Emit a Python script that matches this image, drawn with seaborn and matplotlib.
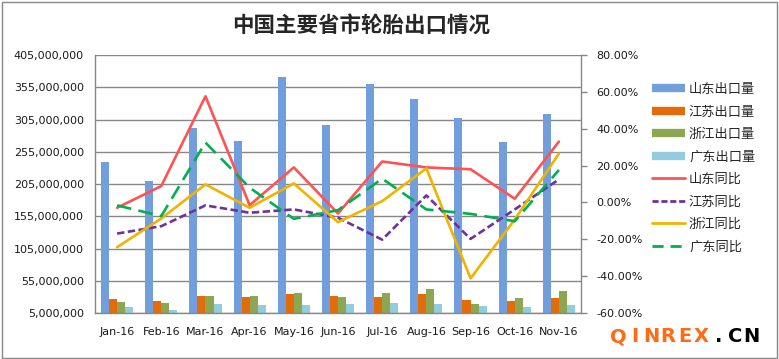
import numpy as np
import pandas as pd
import matplotlib
matplotlib.use("Agg")
import matplotlib.pyplot as plt
import matplotlib.ticker as mticker
from matplotlib.lines import Line2D
from matplotlib.patches import Rectangle
import seaborn as sns

months = ["Jan-16", "Feb-16", "Mar-16", "Apr-16", "May-16", "Jun-16",
          "Jul-16", "Aug-16", "Sep-16", "Oct-16", "Nov-16"]
bar_names = ["山东出口量", "江苏出口量", "浙江出口量", "广东出口量"]
line_names = ["山东同比", "江苏同比", "浙江同比", "广东同比"]

shandong_vol = [239e6, 209e6, 292e6, 272e6, 371e6, 296e6, 360e6, 337e6, 307e6, 270e6, 313e6]
jiangsu_vol = [26.7e6, 23.6e6, 31.4e6, 29.8e6, 34.5e6, 31.4e6, 29.8e6, 34.5e6, 25.2e6, 23.6e6, 28.2e6]
zhejiang_vol = [22e6, 20.5e6, 31.4e6, 31.4e6, 36e6, 29.8e6, 36e6, 42.2e6, 19e6, 28.2e6, 39e6]
guangdong_vol = [14.8e6, 9.6e6, 19e6, 17.4e6, 17.4e6, 19e6, 20.5e6, 19e6, 15.9e6, 14.3e6, 17.4e6]

shandong_yoy = [-2.9, 8.9, 57.6, -1.5, 19.0, -6.0, 22.2, 19.0, 18.0, 2.0, 33.0]
jiangsu_yoy = [-16.9, -12.9, -1.6, -5.6, -3.8, -8.3, -20.2, 3.8, -19.8, -3.8, 12.5]
zhejiang_yoy = [-24.3, -8.7, 9.8, -2.9, 10.3, -10.7, 0.7, 18.5, -41.2, -9.3, 26.5]
guangdong_yoy = [-1.6, -7.4, 32.5, 8.0, -8.9, -4.2, 12.9, -3.8, -6.2, -10.2, 17.6]

bar_colors = ["#729FDB", "#E36C0A", "#8CA652", "#93CDDD"]
line_colors = ["#FF5252", "#7030A0", "#F2B200", "#00B050"]

sns.set_theme(style="white")
plt.rcParams["font.family"] = ["DejaVu Sans", "Noto Sans CJK SC"]

fig = plt.figure(figsize=(7.79, 3.59), dpi=100)
ax = fig.add_axes([95 / 779, 1 - 313 / 359, (581 - 95) / 779, (313 - 55) / 359])

vols = [shandong_vol, jiangsu_vol, zhejiang_vol, guangdong_vol]
df = pd.DataFrame({
    "month": np.tile(months, 4),
    "value": np.concatenate(vols),
    "province": np.repeat(bar_names, len(months)),
})
sns.barplot(data=df, x="month", y="value", hue="province", hue_order=bar_names,
            palette=bar_colors, width=0.73, saturation=1, ax=ax, legend=False,
            linewidth=0, errorbar=None)

ax.set_ylim(5e6, 405e6)
ax.set_yticks(np.arange(5e6, 405e6 + 1, 50e6))
ax.yaxis.set_major_formatter(mticker.FuncFormatter(lambda v, p: f"{v:,.0f}"))
ax.set_xlim(-0.5, len(months) - 0.5)
ax.set_xlabel("")
ax.set_ylabel("")
ax.grid(axis="y", color="#878787", linewidth=1)
ax.set_axisbelow(True)
for s in ["left", "bottom"]:
    ax.spines[s].set_color("#878787")
    ax.spines[s].set_linewidth(1)
ax.spines["top"].set_visible(False)
ax.spines["right"].set_visible(False)
ax.tick_params(axis="both", length=0, labelsize=8, colors="#1a1a1a")
ax.tick_params(axis="x", pad=10)
ax.tick_params(axis="y", pad=8)

ax2 = ax.twinx()
xi = np.arange(len(months))
yoys = [shandong_yoy, jiangsu_yoy, zhejiang_yoy, guangdong_yoy]
dash_styles = [None, (2.8, 1.3), None, (5.5, 2.8)]
for vals, col, dsh in zip(yoys, line_colors, dash_styles):
    sns.lineplot(x=xi, y=vals, ax=ax2, color=col, linewidth=1.9)
    ln = ax2.lines[-1]
    if dsh is not None:
        ln.set_dashes(dsh)
ax2.set_ylim(-60, 80)
ax2.set_yticks(np.arange(-60, 81, 20))
ax2.yaxis.set_major_formatter(mticker.FuncFormatter(lambda v, p: f"{v:.2f}%"))
ax2.set_xlim(-0.5, len(months) - 0.5)
ax2.set_ylabel("")
ax2.grid(False)
for s in ["left", "top", "bottom"]:
    ax2.spines[s].set_visible(False)
ax2.spines["right"].set_color("#878787")
ax2.spines["right"].set_linewidth(1)
ax2.tick_params(axis="y", length=4, width=1, color="#878787", labelsize=8,
                labelcolor="#1a1a1a", pad=7, direction="out")

fig.text(361 / 779, 1 - 25 / 359, "中国主要省市轮胎出口情况", ha="center", va="center",
         fontsize=15.5, fontweight="bold", family=["Noto Sans CJK SC", "DejaVu Sans"])

handles = []
for c in bar_colors:
    handles.append(Line2D([], [], color=c, linewidth=6, solid_capstyle="butt"))
for c, dsh in zip(line_colors, dash_styles):
    h = Line2D([], [], color=c, linewidth=2)
    if dsh is not None:
        h.set_dashes((2.2, 1.0) if dsh[0] < 4 else (4.0, 2.5))
    handles.append(h)
leg = fig.legend(handles, bar_names + line_names, loc="upper left",
                 bbox_to_anchor=(652 / 779, 1 - 83 / 359), frameon=False,
                 prop={"family": ["Noto Sans CJK SC", "DejaVu Sans"], "size": 9.5},
                 handlelength=2.5, handletextpad=0.3, labelspacing=0.72,
                 borderaxespad=0, borderpad=0)

wm = "QINREX.CN"
for i, ch in enumerate(wm):
    fig.text((618 + 16.7 * i) / 779, 1 - 337 / 359, ch, ha="center", va="center",
             fontsize=14, fontweight="bold",
             color="#FF6A13" if i < 6 else "#000000", family="DejaVu Sans")

fig.patches.append(Rectangle((1.5 / 779, 1.5 / 359), 775 / 779, 355.5 / 359,
                             transform=fig.transFigure, fill=False,
                             edgecolor="#878787", linewidth=1))

fig.savefig("out.png", dpi=100)
